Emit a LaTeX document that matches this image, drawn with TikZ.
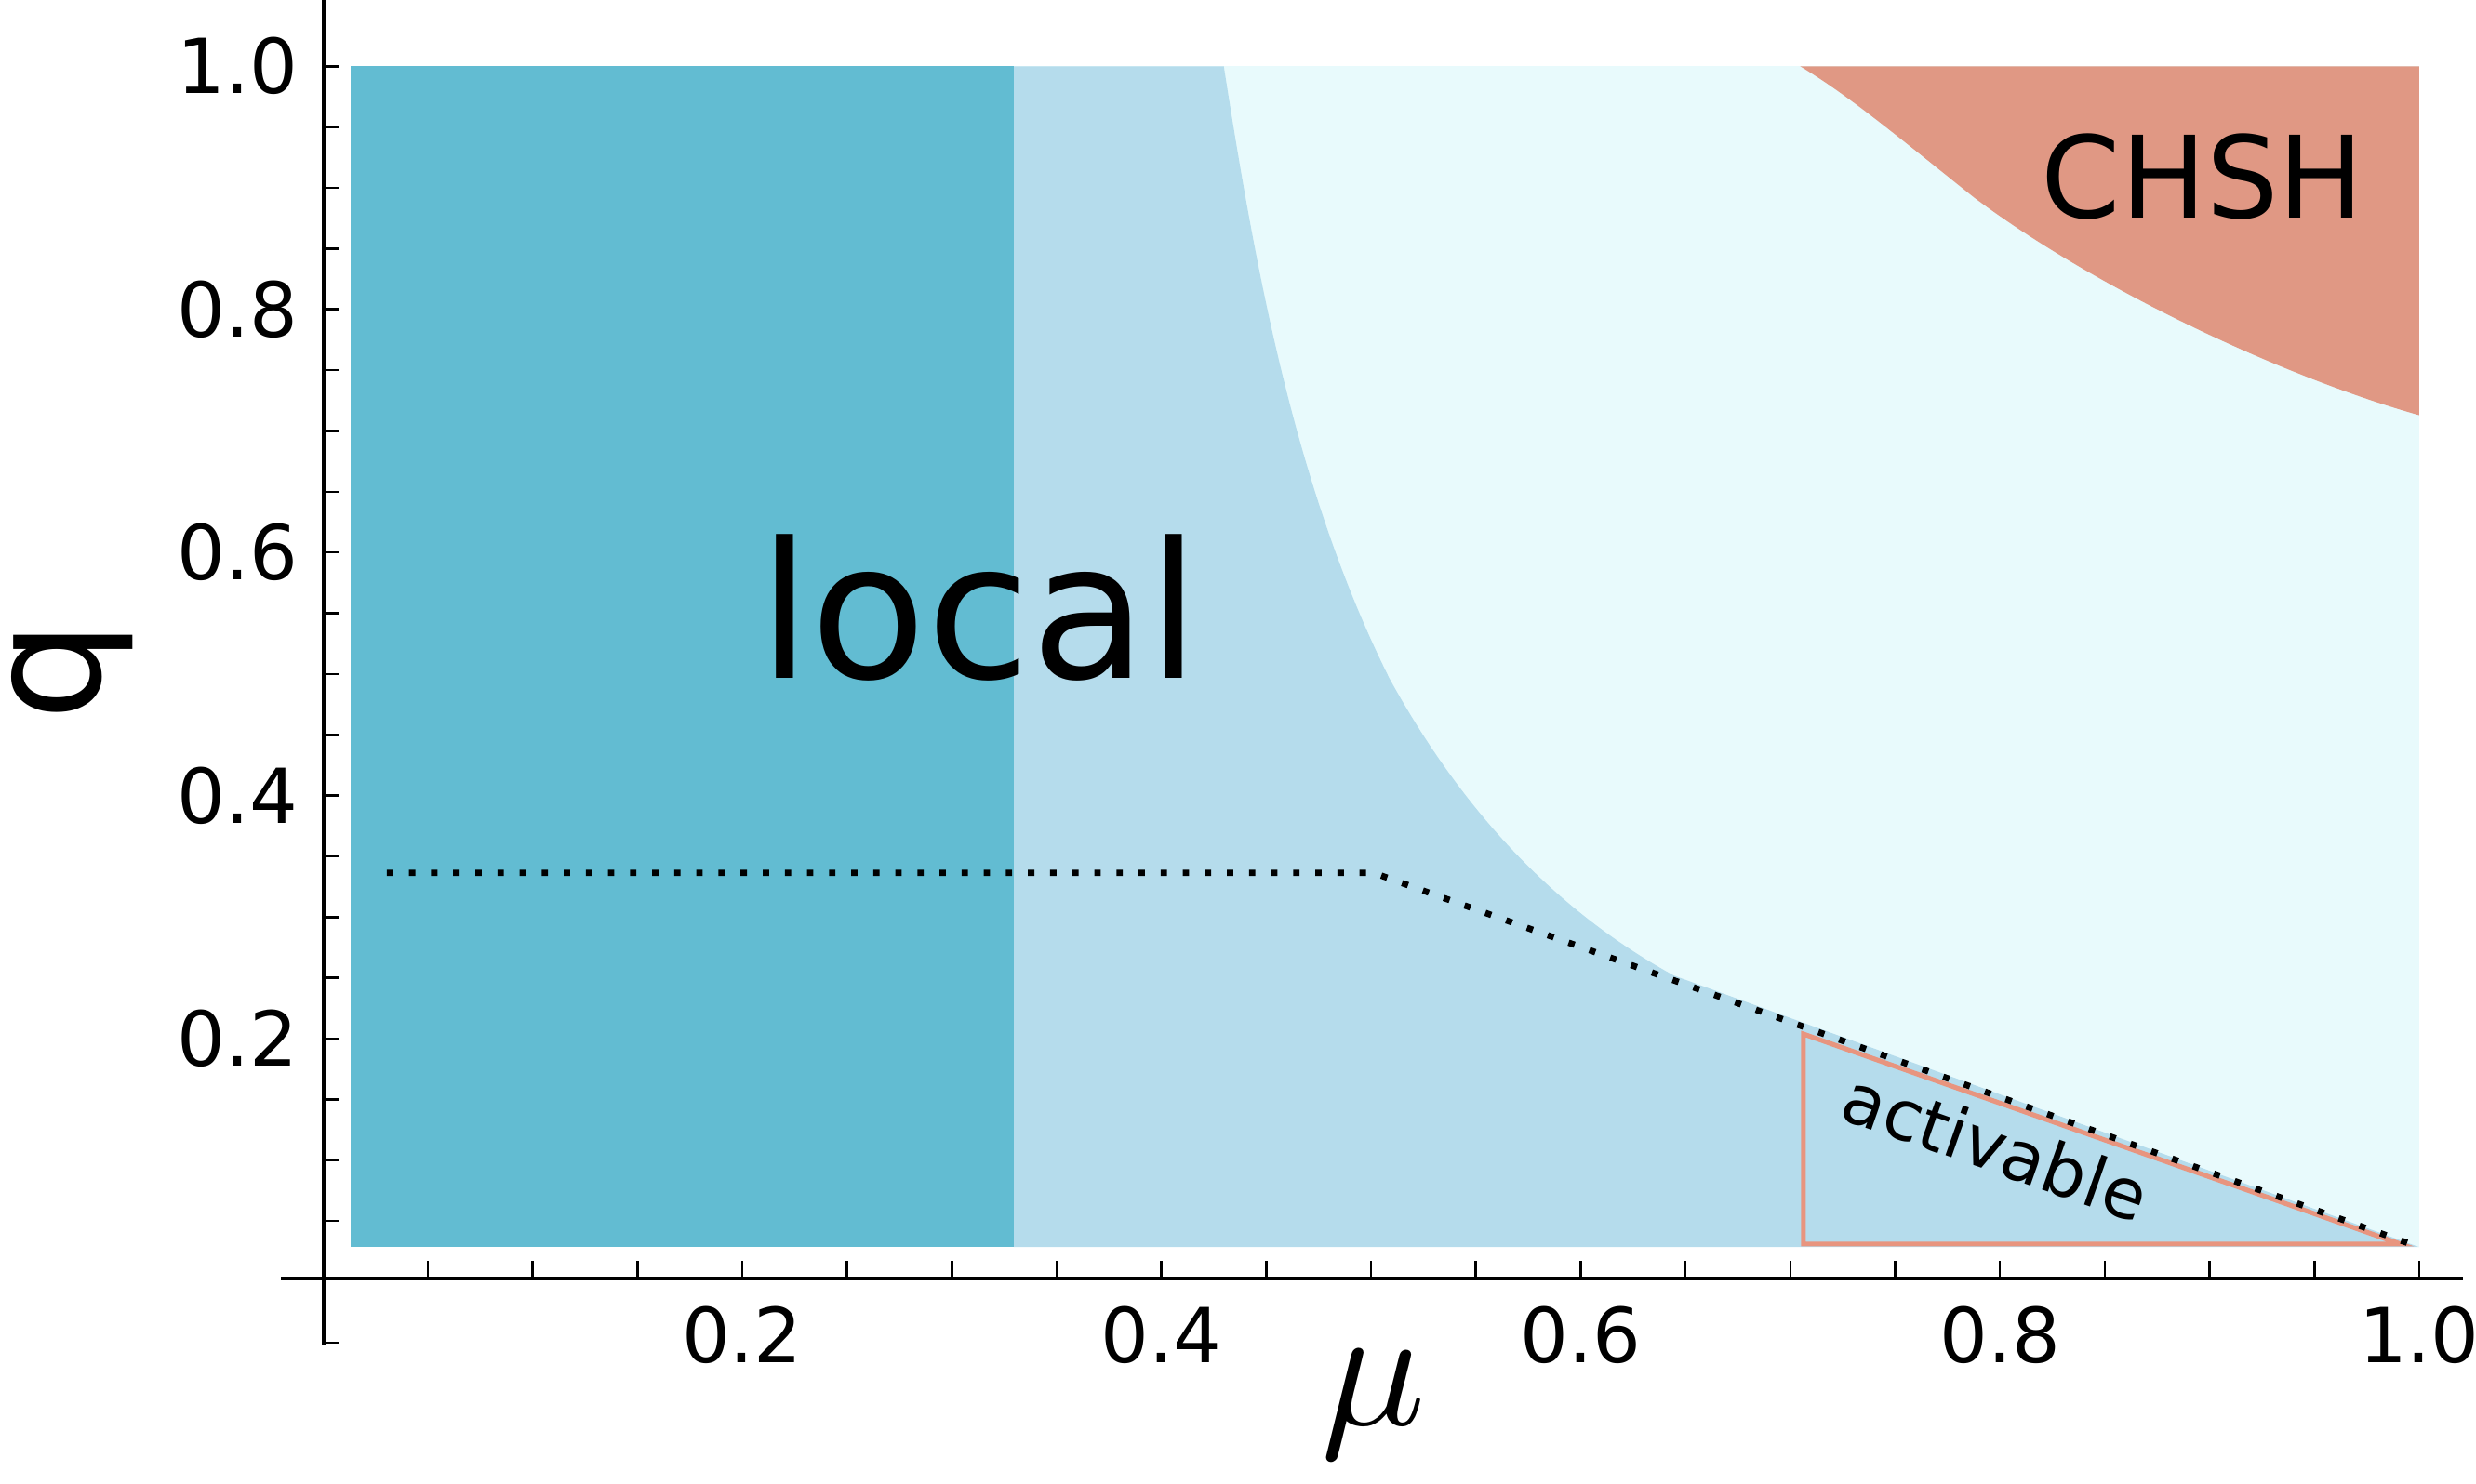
\documentclass[tikz,border=0pt]{standalone}
\usepackage{fontspec}
\usepackage{unicode-math}
\setmathfont{Latin Modern Math}
\setmainfont{DejaVu Sans}
\begin{document}
\begin{tikzpicture}[x=1pt,y=-1pt,
  axis/.style={line width=2pt,black},
  tk/.style={line width=1.5pt,black},
  lbl/.style={font=\fontsize{48}{52}\selectfont}]
\definecolor{teal}{HTML}{62BCD2}
\definecolor{lblue}{HTML}{B5DCEC}
\definecolor{lcyan}{HTML}{E8FAFC}
\definecolor{salmon}{HTML}{E09884}
\definecolor{tri}{HTML}{E8957F}
\useasboundingbox (0,0) rectangle (1568,940);
\fill[lcyan] (642,42) rectangle (1532,790);
\fill[lblue] (642,42) -- (775,42) .. controls (795,170) and (820,310) .. (880,430) .. controls (935,530) and (1000,585) .. (1060,618) -- (1532,790) -- (642,790) -- cycle;
\fill[teal] (222,42) rectangle (642,790);
\fill[salmon] (1140,42) -- (1532,42) -- (1532,263) .. controls (1450,240) and (1330,185) .. (1250,125) .. controls (1200,85) and (1170,60) .. cycle;
\node[font=\fontsize{72}{80}\selectfont] (chsh) at (1395,112) {CHSH};
\node[font=\fontsize{120}{130}\selectfont] (local) at (620,385) {local};
\draw[tri,line width=3pt] (1142,655) -- (1142,788) -- (1520,788) -- cycle;
\node[rotate=-19.4,font=\fontsize{44}{50}\selectfont] (act) at (1264,726) {activable};
\draw[black,line width=4pt,dash pattern=on 4pt off 10pt] (245,553) -- (870,553) -- (1532,790);
\draw[axis] (178,810) -- (1560,810);
\draw[axis] (205,0) -- (205,852);
\foreach \i in {1,...,20} {
  \draw[tk] ({204.5+66.375*\i},810) -- ({204.5+66.375*\i},799);
  \draw[tk] (205,{812-38.5*\i}) -- (215,{812-38.5*\i});
}
\draw[tk] (205,850.5) -- (215,850.5);
\foreach \v/\t in {1/0.2,2/0.4,3/0.6,4/0.8,5/1.0} {
  \node[lbl] at ({204.5+265.5*\v},846) {\t};
  \node[lbl,anchor=east] at (192,{812-154*\v}) {\t};
}
\node[rotate=90,font=\fontsize{100}{100}\selectfont] (q) at (46,425) {q};
\node[font=\fontsize{110}{110}\selectfont] (mu) at (870,890) {$\mu$};
\end{tikzpicture}
\end{document}
